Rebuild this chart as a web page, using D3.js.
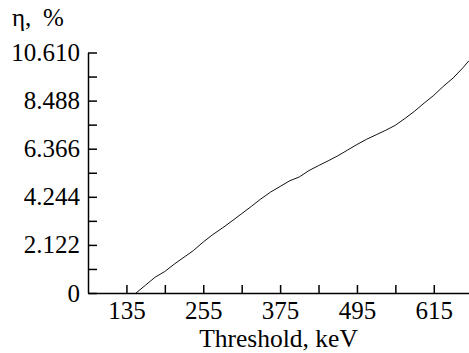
<!DOCTYPE html>
<html>
<head>
<meta charset="utf-8">
<script src="https://cdn.jsdelivr.net/npm/d3@7"></script>
<style>
  body { margin: 0; background: #fff; }
  svg text { font-family: 'Liberation Serif', 'Times New Roman', Times, serif; }
</style>
</head>
<body>
<script>
// threshold (keV) and efficiency (%)
var threshold = [150, 165, 180, 195, 210, 225, 240, 255, 270, 285, 300, 315, 330, 345, 360,
  375, 390, 405, 420, 435, 450, 465, 480, 495, 510, 525, 540, 555, 570, 585, 600, 615,
  630, 645, 660, 670];
var efficiency = [0, 0.35, 0.7, 0.95, 1.28, 1.58, 1.88, 2.25, 2.58, 2.87, 3.18, 3.5, 3.82,
  4.15, 4.45, 4.7, 4.95, 5.12, 5.4, 5.62, 5.83, 6.05, 6.3, 6.55, 6.78, 6.98, 7.18, 7.4,
  7.7, 8.02, 8.38, 8.72, 9.12, 9.48, 9.92, 10.25];

var xTicks = [135, 195, 255, 315, 375, 435, 495, 555, 615];
var xLabels = ["135", "", "255", "", "375", "", "495", "", "615"];
var yTicks = [0, 1.061, 2.122, 3.183, 4.244, 5.305, 6.366, 7.427, 8.488, 9.549, 10.61];
var yLabels = ["0", "", "2.122", "", "4.244", "", "6.366", "", "8.488", "", "10.610"];

var width = 469, height = 353;
var serif = "'Liberation Serif', 'Times New Roman', Times, serif";

var svg = d3.select('body').append('svg')
  .attr('width', width)
  .attr('height', height)
  .attr('font-family', serif);

var x = d3.scaleLinear().domain([75, 670]).range([88, 469]);
var y = d3.scaleLinear().domain([0, 10.61]).range([293, 52.5]);

var xAxis = d3.axisBottom(x)
  .tickValues(xTicks)
  .tickFormat(function (d, i) { return xLabels[i]; })
  .tickSizeInner(-8)
  .tickSizeOuter(0)
  .tickPadding(8);

var yAxis = d3.axisLeft(y)
  .tickValues(yTicks)
  .tickFormat(function (d, i) { return yLabels[i]; })
  .tickSizeInner(-9)
  .tickSizeOuter(0)
  .tickPadding(8);

var gx = svg.append('g')
  .attr('transform', 'translate(0,' + y(0) + ')')
  .call(xAxis);
var gy = svg.append('g')
  .attr('transform', 'translate(' + x(75) + ',0)')
  .call(yAxis);

[gx, gy].forEach(function (g) {
  g.attr('font-family', serif).attr('font-size', 25);
  g.selectAll('path, line').attr('stroke', '#000').attr('stroke-width', 1.5);
  g.selectAll('text').attr('fill', '#000');
});

// curve
var line = d3.line()
  .x(function (d, i) { return x(threshold[i]); })
  .y(function (d) { return y(d); });

svg.append('path')
  .datum(efficiency)
  .attr('fill', 'none')
  .attr('stroke', '#111')
  .attr('stroke-width', 1)
  .attr('d', line);

// axis titles
svg.append('text')
  .attr('x', (x.range()[0] + x.range()[1]) / 2)
  .attr('y', 347)
  .attr('text-anchor', 'middle')
  .attr('font-size', 25.5)
  .text('Threshold, keV');

var yTitle = svg.append('text')
  .attr('x', 12)
  .attr('y', 26)
  .attr('font-size', 25);
yTitle.append('tspan').text('η,');
yTitle.append('tspan').attr('x', 43).text('%');
</script>
</body>
</html>
